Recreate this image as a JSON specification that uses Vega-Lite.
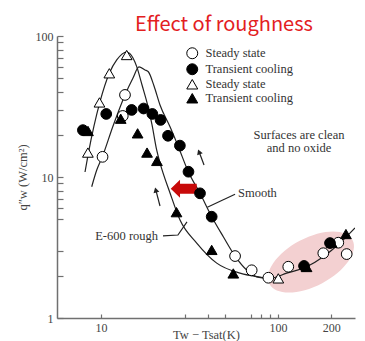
{
  "$schema": "https://vega.github.io/schema/vega-lite/v6.json",
  "width": 298,
  "height": 282,
  "autosize": {"type": "none"},
  "padding": {"left": 57, "top": 36, "right": 10, "bottom": 23},
  "background": "white",
  "title": {"text": "Effect of roughness", "font": "Noto Sans CJK KR", "fontSize": 20, "fontWeight": "normal", "color": "#e3201f", "anchor": "middle", "dx": 18, "dy": 29, "baseline": "alphabetic", "offset": 8},
  "config": {
    "view": {"stroke": null},
    "axis": {"grid": false, "domainColor": "#707070", "domainWidth": 1.5, "tickColor": "#707070", "tickWidth": 1.2, "labelFont": "Liberation Serif", "labelFontSize": 12, "labelColor": "#444", "titleFont": "Liberation Serif", "titleFontSize": 12.5, "titleColor": "#444", "titleFontWeight": "normal", "labelOverlap": false, "labelFlush": false},
    "legend": {"title": null, "orient": "none", "legendX": 129, "legendY": 11, "labelFont": "Liberation Serif", "labelFontSize": 12.5, "labelColor": "#333", "symbolSize": 120, "symbolStrokeWidth": 1, "rowPadding": 0, "labelOffset": 7}
  },
  "datasets": {
    "ellipse": [{"x": 153.6, "y": 2.495}],
    "pts": [
      {"x": 13.66, "y": 38.2, "s": "Steady state"},
      {"x": 10.2, "y": 13.9, "s": "Steady state"},
      {"x": 13.27, "y": 27.1, "s": "Steady state"},
      {"x": 57.2, "y": 2.75, "s": "Steady state"},
      {"x": 71.0, "y": 2.18, "s": "Steady state"},
      {"x": 88.2, "y": 1.93, "s": "Steady state"},
      {"x": 114.3, "y": 2.31, "s": "Steady state"},
      {"x": 180.3, "y": 2.88, "s": "Steady state"},
      {"x": 219.1, "y": 3.42, "s": "Steady state"},
      {"x": 244.4, "y": 2.84, "s": "Steady state"},
      {"x": 13.97, "y": 73.3, "s": "Steady state "},
      {"x": 11.14, "y": 54.4, "s": "Steady state "},
      {"x": 9.8, "y": 33.8, "s": "Steady state "},
      {"x": 8.43, "y": 14.9, "s": "Steady state "},
      {"x": 100.4, "y": 1.91, "s": "Steady state "},
      {"x": 7.9, "y": 21.5, "s": "Transient cooling"},
      {"x": 10.7, "y": 28.0, "s": "Transient cooling"},
      {"x": 14.9, "y": 29.9, "s": "Transient cooling"},
      {"x": 17.4, "y": 30.6, "s": "Transient cooling"},
      {"x": 19.5, "y": 28.0, "s": "Transient cooling"},
      {"x": 21.7, "y": 25.4, "s": "Transient cooling"},
      {"x": 23.9, "y": 19.6, "s": "Transient cooling"},
      {"x": 27.9, "y": 16.7, "s": "Transient cooling"},
      {"x": 31.2, "y": 10.9, "s": "Transient cooling"},
      {"x": 36.25, "y": 7.66, "s": "Transient cooling"},
      {"x": 42.2, "y": 5.23, "s": "Transient cooling"},
      {"x": 140.3, "y": 2.34, "s": "Transient cooling"},
      {"x": 196.7, "y": 3.4, "s": "Transient cooling"},
      {"x": 8.44, "y": 21.2, "s": "Transient cooling "},
      {"x": 12.92, "y": 25.9, "s": "Transient cooling "},
      {"x": 16.1, "y": 20.4, "s": "Transient cooling "},
      {"x": 18.2, "y": 14.9, "s": "Transient cooling "},
      {"x": 20.7, "y": 13.0, "s": "Transient cooling "},
      {"x": 26.7, "y": 5.63, "s": "Transient cooling "},
      {"x": 42.2, "y": 3.04, "s": "Transient cooling "},
      {"x": 55.9, "y": 2.07, "s": "Transient cooling "},
      {"x": 145.0, "y": 2.3, "s": "Transient cooling "},
      {"x": 201.0, "y": 3.42, "s": "Transient cooling "},
      {"x": 242.0, "y": 3.94, "s": "Transient cooling "}
    ],
    "curves": [
      {"c": "smooth", "x": 8.86, "y": 8.53},
      {"c": "smooth", "x": 9.46, "y": 11.2},
      {"c": "smooth", "x": 10.17, "y": 13.9},
      {"c": "smooth", "x": 11.69, "y": 23.0},
      {"c": "smooth", "x": 13.66, "y": 38.2},
      {"c": "smooth", "x": 15.16, "y": 50.4},
      {"c": "smooth", "x": 16.39, "y": 60.3},
      {"c": "smooth", "x": 17.73, "y": 57.4},
      {"c": "smooth", "x": 18.5, "y": 55.8},
      {"c": "smooth", "x": 19.93, "y": 44.2},
      {"c": "smooth", "x": 21.54, "y": 32.4},
      {"c": "smooth", "x": 24.54, "y": 22.7},
      {"c": "smooth", "x": 27.34, "y": 16.4},
      {"c": "smooth", "x": 31.13, "y": 10.9},
      {"c": "smooth", "x": 36.25, "y": 7.66},
      {"c": "smooth", "x": 42.22, "y": 5.23},
      {"c": "smooth", "x": 49.09, "y": 3.77},
      {"c": "smooth", "x": 57.18, "y": 2.75},
      {"c": "smooth", "x": 66.57, "y": 2.19},
      {"c": "smooth", "x": 75.81, "y": 1.96},
      {"c": "smooth", "x": 90.1, "y": 1.91},
      {"c": "rough", "x": 8.12, "y": 10.85},
      {"c": "rough", "x": 8.48, "y": 14.7},
      {"c": "rough", "x": 9.87, "y": 34.2},
      {"c": "rough", "x": 11.14, "y": 54.4},
      {"c": "rough", "x": 12.27, "y": 67.6},
      {"c": "rough", "x": 13.97, "y": 77.0},
      {"c": "rough", "x": 15.16, "y": 69.8},
      {"c": "rough", "x": 15.91, "y": 60.6},
      {"c": "rough", "x": 17.05, "y": 44.9},
      {"c": "rough", "x": 18.44, "y": 31.5},
      {"c": "rough", "x": 19.42, "y": 23.4},
      {"c": "rough", "x": 20.64, "y": 15.5},
      {"c": "rough", "x": 21.54, "y": 12.6},
      {"c": "rough", "x": 24.54, "y": 7.7},
      {"c": "rough", "x": 27.95, "y": 4.95},
      {"c": "rough", "x": 34.73, "y": 3.4},
      {"c": "rough", "x": 45.06, "y": 2.45},
      {"c": "rough", "x": 61.0, "y": 2.08},
      {"c": "rough", "x": 79.1, "y": 1.95},
      {"c": "rough", "x": 90.1, "y": 1.91},
      {"c": "rough", "x": 112.0, "y": 2.08},
      {"c": "rough", "x": 145.2, "y": 2.31},
      {"c": "rough", "x": 180.3, "y": 2.72},
      {"c": "rough", "x": 224.0, "y": 3.4},
      {"c": "rough", "x": 272.3, "y": 4.35}
    ],
    "leader": [
      {"x": 22.4, "y": 3.82},
      {"x": 27.2, "y": 3.88},
      {"x": 30.6, "y": 4.8}
    ],
    "rules": [
      {"x": 39.87, "y": 6.1, "x2": 57.18, "y2": 7.54},
      {"x": 21.54, "y": 6.23, "x2": 20.39, "y2": 8.1},
      {"x": 38.2, "y": 12.17, "x2": 35.8, "y2": 15.09}
    ],
    "heads": [
      {"x": 20.39, "y": 8.1, "a": -15},
      {"x": 35.8, "y": 15.09, "a": -21}
    ],
    "red": [{"x": 29.33, "y": 8.25}],
    "ctext": [
      {"x": 131.4, "y": 19.9, "t": "Surfaces are clean"},
      {"x": 131.4, "y": 16.1, "t": "and no oxide"}
    ],
    "ltext": [
      {"x": 59.4, "y": 7.74, "t": "Smooth"}
    ],
    "rtext": [
      {"x": 21.0, "y": 3.83, "t": "E-600 rough"}
    ]
  },
  "layer": [
    {
      "data": {"name": "ellipse"},
      "mark": {"type": "point", "filled": true, "fill": "#f3d0d1", "opacity": 1, "strokeWidth": 0, "size": 8836,
        "shape": "M0.883,-0.469C1.015,-0.221,0.727,0.191,0.239,0.45C-0.248,0.71,-0.751,0.718,-0.883,0.469C-1.015,0.221,-0.727,-0.191,-0.239,-0.45C0.248,-0.71,0.751,-0.718,0.883,-0.469Z"},
      "encoding": {
        "x": {"field": "x", "type": "quantitative", "scale": {"type": "log", "domain": [5.64, 272.3], "nice": false},
          "axis": {"values": [10, 30, 40, 50, 70, 80, 90, 100, 200], "tickSize": -4, "labelPadding": 8,
            "labelExpr": "datum.value == 10 ? '10' : datum.value == 100 ? '100' : datum.value == 200 ? '200' : ''",
            "title": "Tw − Tsat(K)", "titlePadding": -5}},
        "y": {"field": "y", "type": "quantitative", "scale": {"type": "log", "domain": [1, 100], "nice": false},
          "axis": {"values": [1, 2, 3, 5, 6, 7, 8, 9, 10, 20, 30, 40, 50, 60, 70, 80, 90, 100], "tickSize": -6, "labelPadding": 10,
            "labelExpr": "datum.value == 1 ? '1' : datum.value == 10 ? '10' : datum.value == 100 ? '100' : ''",
            "title": "q″w (W/cm²)", "titlePadding": 6}}
      }
    },
    {
      "mark": {"type": "rule", "color": "#707070", "strokeWidth": 1.5},
      "encoding": {"y": {"datum": 100}}
    },
    {
      "data": {"name": "curves"},
      "mark": {"type": "line", "color": "#222", "strokeWidth": 1.2, "interpolate": "monotone", "clip": true},
      "encoding": {
        "x": {"field": "x", "type": "quantitative"},
        "y": {"field": "y", "type": "quantitative"},
        "detail": {"field": "c", "type": "nominal"}
      }
    },
    {
      "data": {"name": "leader"},
      "mark": {"type": "line", "color": "#222", "strokeWidth": 1.2},
      "encoding": {
        "x": {"field": "x", "type": "quantitative"},
        "y": {"field": "y", "type": "quantitative"}
      }
    },
    {
      "data": {"name": "rules"},
      "mark": {"type": "rule", "color": "#222", "strokeWidth": 1.2},
      "encoding": {
        "x": {"field": "x", "type": "quantitative"},
        "y": {"field": "y", "type": "quantitative"},
        "x2": {"field": "x2"},
        "y2": {"field": "y2"}
      }
    },
    {
      "data": {"name": "heads"},
      "mark": {"type": "point", "shape": "triangle-up", "filled": true, "color": "#222", "size": 36, "opacity": 1},
      "encoding": {
        "x": {"field": "x", "type": "quantitative"},
        "y": {"field": "y", "type": "quantitative"},
        "angle": {"field": "a", "type": "quantitative", "scale": null}
      }
    },
    {
      "data": {"name": "red"},
      "mark": {"type": "point", "filled": true, "fill": "#c80a0a", "opacity": 1, "strokeWidth": 0, "size": 676,
        "shape": "M-1,0L-0.285,-0.69L-0.285,-0.385L1,-0.385L1,0.385L-0.285,0.385L-0.285,0.69Z"},
      "encoding": {
        "x": {"field": "x", "type": "quantitative"},
        "y": {"field": "y", "type": "quantitative"}
      }
    },
    {
      "data": {"name": "pts"},
      "mark": {"type": "point", "filled": true, "strokeWidth": 1, "size": 115, "opacity": 1},
      "encoding": {
        "x": {"field": "x", "type": "quantitative"},
        "y": {"field": "y", "type": "quantitative"},
        "shape": {"field": "s", "type": "nominal",
          "scale": {"domain": ["Steady state", "Transient cooling", "Steady state ", "Transient cooling "], "range": ["circle", "circle", "triangle-up", "triangle-up"]}},
        "fill": {"field": "s", "type": "nominal",
          "scale": {"domain": ["Steady state", "Transient cooling", "Steady state ", "Transient cooling "], "range": ["white", "black", "white", "black"]}},
        "stroke": {"field": "s", "type": "nominal",
          "scale": {"domain": ["Steady state", "Transient cooling", "Steady state ", "Transient cooling "], "range": ["black", "black", "black", "black"]}}
      }
    },
    {
      "data": {"name": "ctext"},
      "mark": {"type": "text", "font": "Liberation Serif", "fontSize": 12.5, "color": "#333", "baseline": "middle", "align": "center"},
      "encoding": {
        "x": {"field": "x", "type": "quantitative"},
        "y": {"field": "y", "type": "quantitative"},
        "text": {"field": "t"}
      }
    },
    {
      "data": {"name": "ltext"},
      "mark": {"type": "text", "font": "Liberation Serif", "fontSize": 12.5, "color": "#333", "baseline": "middle", "align": "left"},
      "encoding": {
        "x": {"field": "x", "type": "quantitative"},
        "y": {"field": "y", "type": "quantitative"},
        "text": {"field": "t"}
      }
    },
    {
      "data": {"name": "rtext"},
      "mark": {"type": "text", "font": "Liberation Serif", "fontSize": 12.5, "color": "#333", "baseline": "middle", "align": "right"},
      "encoding": {
        "x": {"field": "x", "type": "quantitative"},
        "y": {"field": "y", "type": "quantitative"},
        "text": {"field": "t"}
      }
    }
  ]
}
